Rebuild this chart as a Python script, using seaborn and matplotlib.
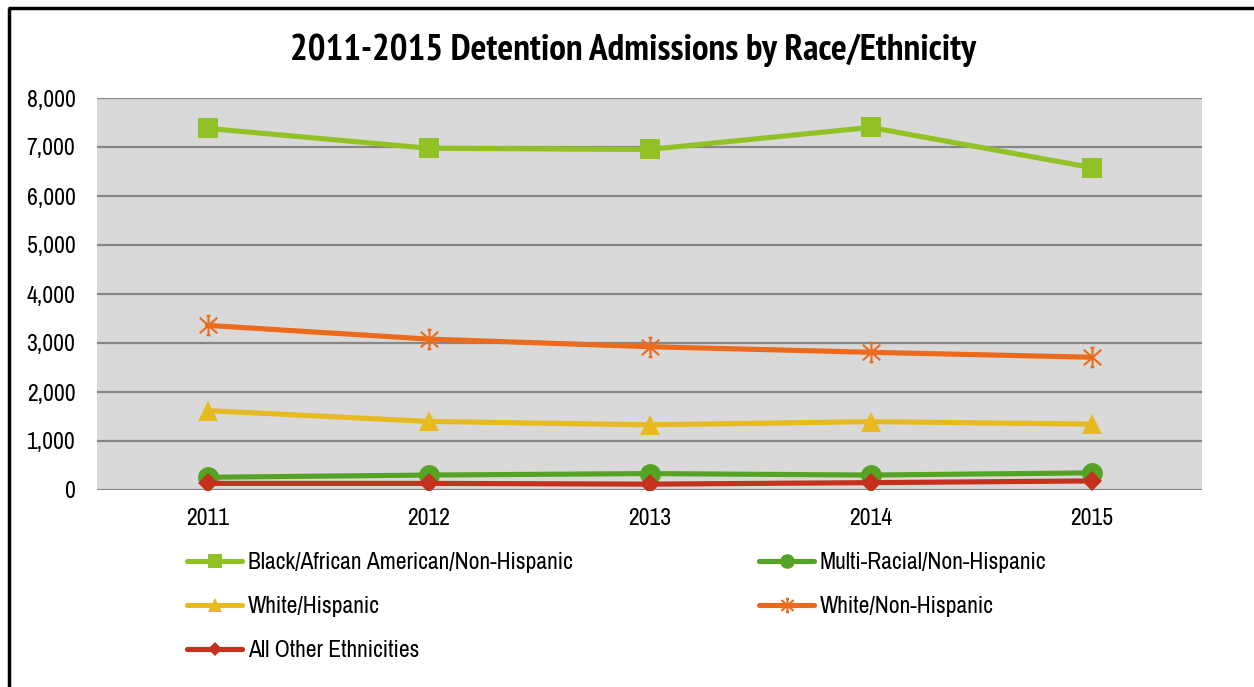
import matplotlib
matplotlib.use("Agg")
import matplotlib.pyplot as plt
from matplotlib.path import Path
from matplotlib.lines import Line2D
from matplotlib import font_manager
import seaborn as sns

# Detention admissions by race/ethnicity, 2011-2015
years = [2011, 2012, 2013, 2014, 2015]
black_non_hispanic = [7380, 6975, 6950, 7400, 6580]
multi_racial_non_hispanic = [260, 305, 335, 305, 350]
white_hispanic = [1620, 1400, 1330, 1395, 1345]
white_non_hispanic = [3360, 3080, 2925, 2810, 2710]
all_other = [135, 135, 120, 150, 185]

series_names = [
    "Black/African American/Non-Hispanic",
    "Multi-Racial/Non-Hispanic",
    "White/Hispanic",
    "White/Non-Hispanic",
    "All Other Ethnicities",
]
y_ticks = [0, 1000, 2000, 3000, 4000, 5000, 6000, 7000, 8000]

sns.set_theme(style="white")
font_entries = font_manager.fontManager.ttflist
available = {f.name for f in font_entries}
body_fonts = ["Liberation Sans Narrow", "Arial Narrow", "Archivo Narrow", "PT Sans Narrow",
              "Roboto Condensed", "IBM Plex Sans Condensed", "Roboto"]
title_fonts = ["Liberation Sans Narrow", "Arial Narrow", "PT Sans Narrow", "Archivo Narrow",
               "IBM Plex Sans Condensed", "Roboto"]
main_font = next((f for f in body_fonts if f in available), "DejaVu Sans")


def has_bold(name):
    return any(f.name == name and (f.weight in ("bold", "semibold") or
               (isinstance(f.weight, int) and f.weight >= 600)) for f in font_entries)


title_font = next((f for f in title_fonts if f in available and has_bold(f)), main_font)
plt.rcParams["font.family"] = [main_font, "DejaVu Sans"]
plt.rcParams["text.color"] = "black"

# asterisk-style marker: vertical bar with small caps plus two diagonals
star_verts = [(-0.1, 0.5), (0.1, 0.5), (0, 0.5), (0, -0.5), (-0.1, -0.5), (0.1, -0.5),
              (-0.45, 0.4), (0.45, -0.4), (-0.45, -0.4), (0.45, 0.4)]
star_codes = [Path.MOVETO, Path.LINETO, Path.MOVETO, Path.LINETO, Path.MOVETO, Path.LINETO,
              Path.MOVETO, Path.LINETO, Path.MOVETO, Path.LINETO]
star_marker = Path(star_verts, star_codes)

styles = {
    "Black/African American/Non-Hispanic": dict(color="#92C125", marker="s", ms=14, mew=0),
    "Multi-Racial/Non-Hispanic": dict(color="#55A324", marker="o", ms=15, mew=0),
    "White/Hispanic": dict(color="#E8BA22", marker="^", ms=15, mew=0),
    "White/Non-Hispanic": dict(color="#EB6A1B", marker=star_marker, ms=14, mew=1.5),
    "All Other Ethnicities": dict(color="#C4311C", marker="D", ms=10, mew=0),
}
values = {
    "Black/African American/Non-Hispanic": black_non_hispanic,
    "Multi-Racial/Non-Hispanic": multi_racial_non_hispanic,
    "White/Hispanic": white_hispanic,
    "White/Non-Hispanic": white_non_hispanic,
    "All Other Ethnicities": all_other,
}

fig = plt.figure(figsize=(12.54, 6.87), dpi=100)
ax = fig.add_axes([97 / 1254, 1 - 490 / 687, 1105 / 1254, 392 / 687])
ax.set_facecolor("#D9D9D9")

for name in series_names:
    st = styles[name]
    is_star = st["marker"] is star_marker
    sns.lineplot(
        x=years, y=values[name], ax=ax, color=st["color"], linewidth=3.7,
        marker=st["marker"], markersize=st["ms"], markeredgewidth=st["mew"],
        markerfacecolor="none" if is_star else st["color"],
        markeredgecolor=st["color"], zorder=3,
    )

ax.set_xlim(2010.5, 2015.5)
ax.set_ylim(0, 8000)
ax.set_xticks(years)
ax.set_xticklabels([str(y) for y in years])
ax.set_yticks(y_ticks)
ax.set_yticklabels([f"{v:,}" for v in y_ticks])
ax.yaxis.grid(True, color="#878787", linewidth=1.6)
ax.xaxis.grid(False)
ax.set_axisbelow(True)
for s in ax.spines.values():
    s.set_visible(False)
ax.tick_params(axis="both", length=0, labelsize=17, colors="#000000")
ax.tick_params(axis="y", pad=15.5)
ax.tick_params(axis="x", pad=13)
ax.set_xlabel("")
ax.set_ylabel("")

fig.text(633 / 1254, 1 - 50 / 687, "2011-2015 Detention Admissions by Race/Ethnicity",
         ha="center", va="center", fontsize=26.8, fontweight="bold", color="black",
         family=[title_font, "DejaVu Sans"])


def handle(name):
    st = styles[name]
    is_star = st["marker"] is star_marker
    return Line2D([], [], color=st["color"], linewidth=3.7, marker=st["marker"],
                  markersize=st["ms"] * 0.7, markeredgewidth=st["mew"],
                  markerfacecolor="none" if is_star else st["color"],
                  markeredgecolor=st["color"])


legend_kw = dict(frameon=False, fontsize=17, handlelength=2.35, handletextpad=0.22,
                 labelspacing=0.98, borderpad=0, borderaxespad=0, loc="upper left")
left_col = ["Black/African American/Non-Hispanic", "White/Hispanic", "All Other Ethnicities"]
right_col = ["Multi-Racial/Non-Hispanic", "White/Non-Hispanic"]
fig.legend([handle(n) for n in left_col], left_col,
           bbox_to_anchor=(187 / 1254, 1 - 552 / 687), **legend_kw)
fig.legend([handle(n) for n in right_col], right_col,
           bbox_to_anchor=(759 / 1254, 1 - 552 / 687), **legend_kw)

# frame edges along the top and left of the figure
fig.add_artist(Line2D([8 / 1254, 1.01], [1 - 8 / 687, 1 - 8 / 687], color="black",
                      linewidth=2.5, solid_capstyle="butt", transform=fig.transFigure))
fig.add_artist(Line2D([9 / 1254, 9 / 1254], [-0.01, 1 - 8 / 687], color="black",
                      linewidth=2.5, solid_capstyle="butt", transform=fig.transFigure))

fig.savefig("out.png", dpi=100, facecolor="white")
